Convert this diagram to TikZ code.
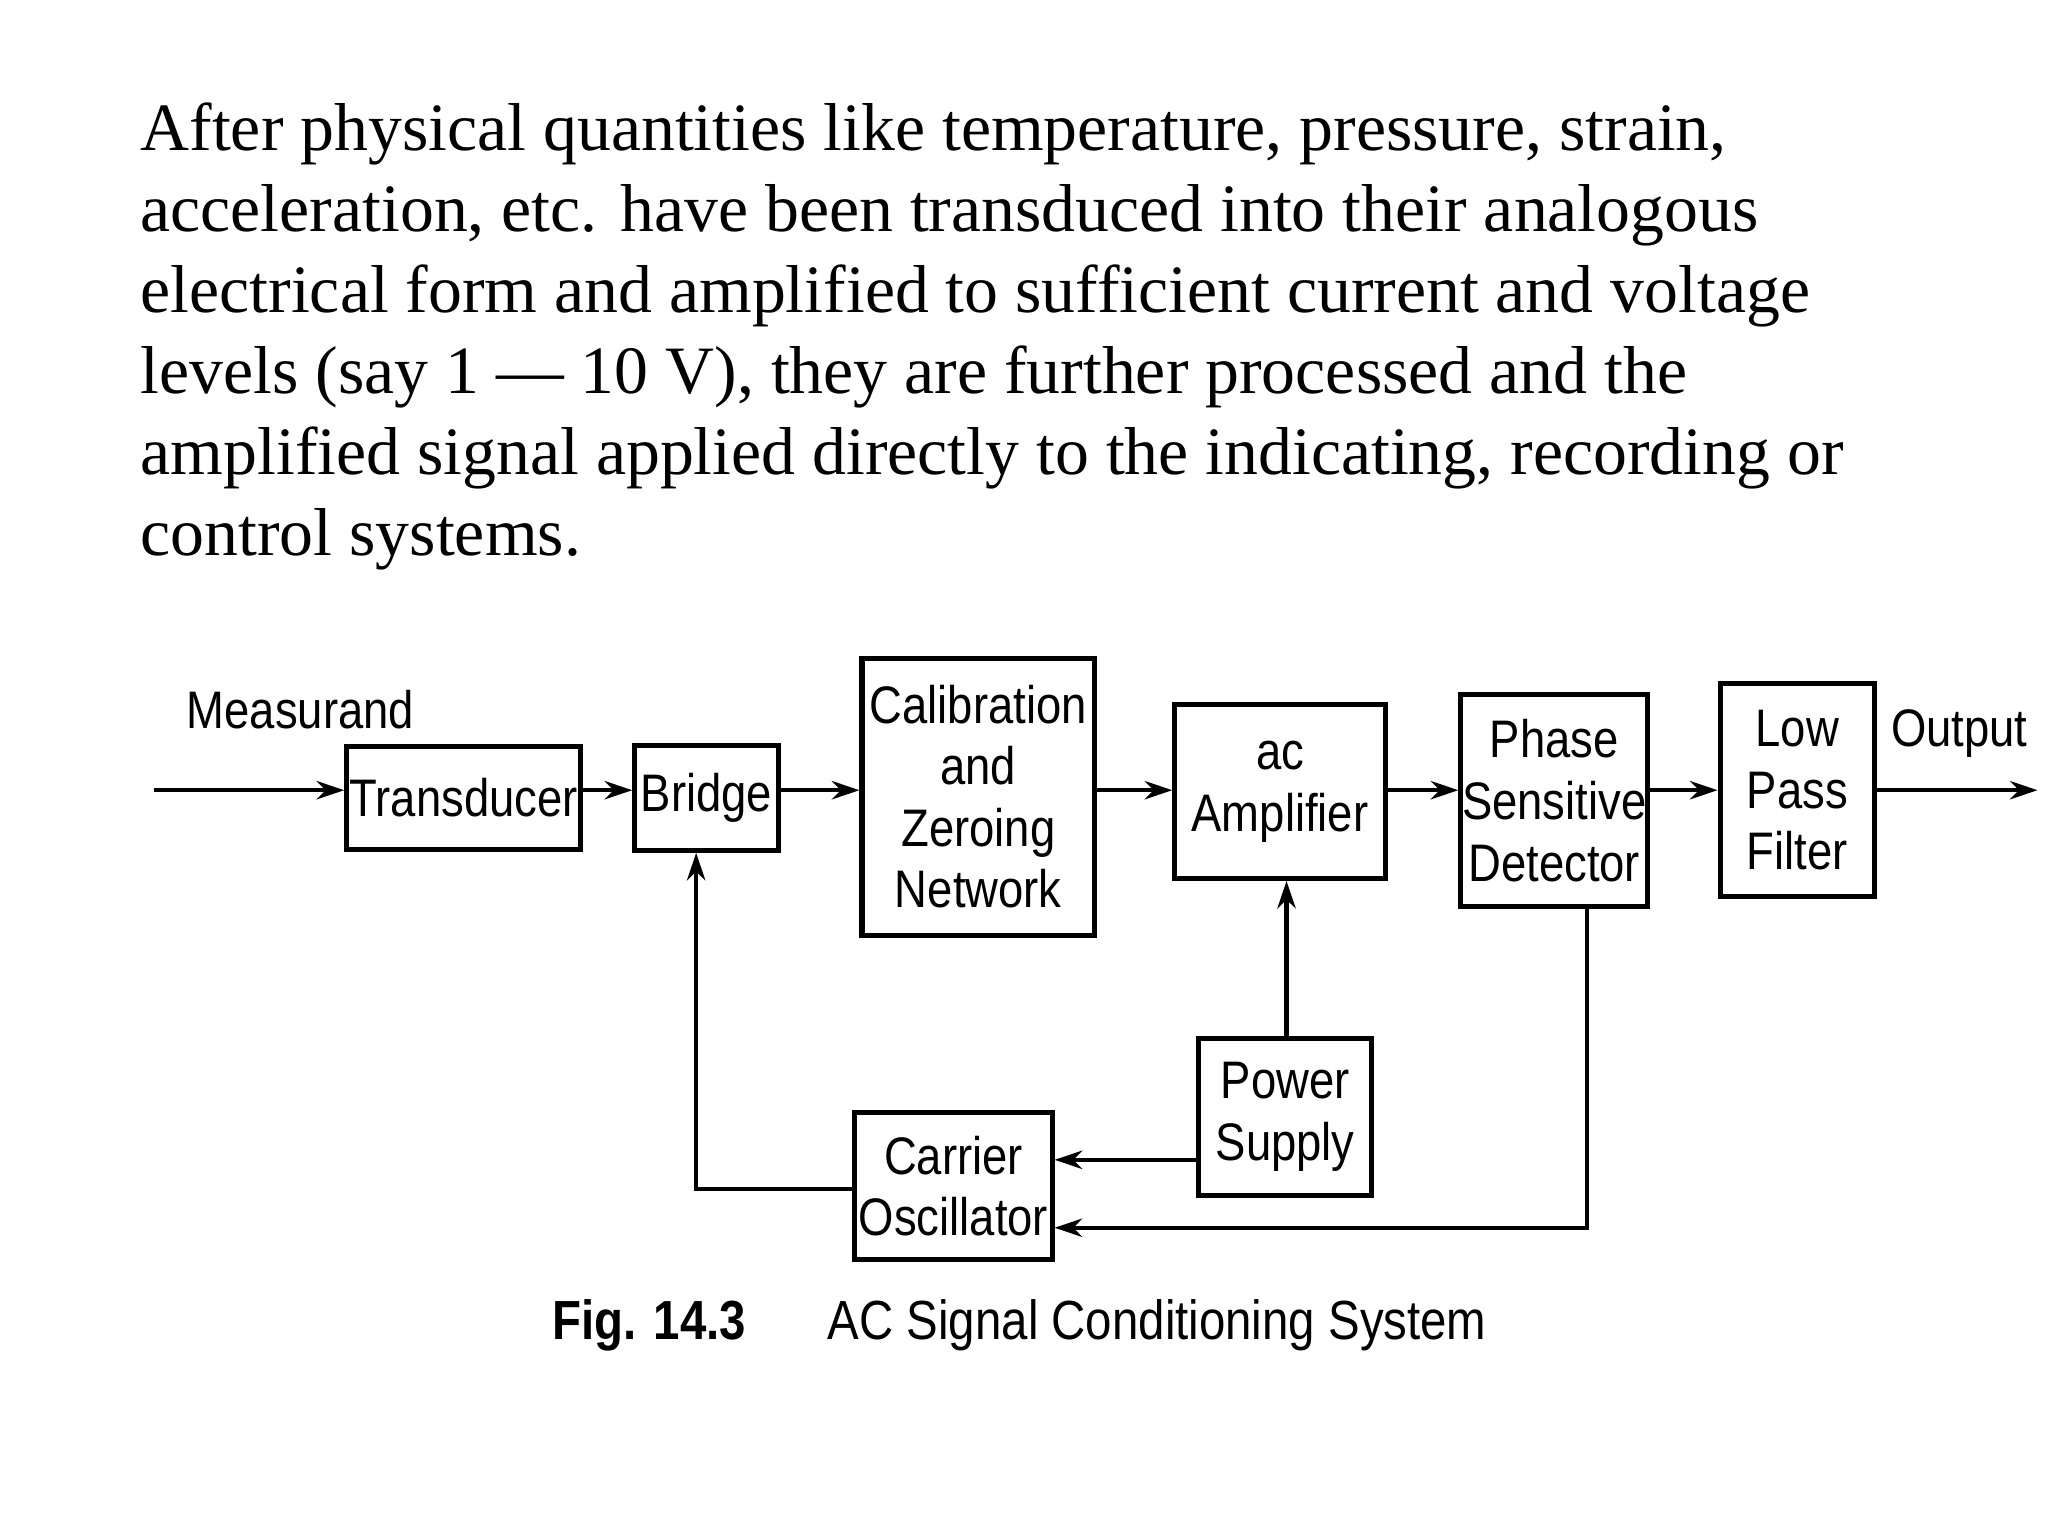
\documentclass[tikz,border=0pt]{standalone}
\usepackage{fontspec}
\setmainfont{Liberation Serif}
\newfontfamily\diag[FakeStretch=0.86]{Liberation Sans}
\usetikzlibrary{arrows.meta}
\begin{document}
\begin{tikzpicture}[x=0.01cm,y=-0.01cm,
  blk/.style={draw,line width=1.1pt,inner sep=0pt,align=center,font=\diag\fontsize{11.5pt}{13.4pt}\selectfont},
  lbl/.style={inner sep=0pt,font=\diag\fontsize{11.5pt}{13.4pt}\selectfont},
  par/.style={anchor=base west,inner sep=0pt,font=\fontsize{14.75pt}{16pt}\selectfont},
  conn/.style={line width=0.9pt,-{Stealth[length=6pt,width=4pt]}},
  wire/.style={line width=0.9pt}]
\useasboundingbox (0,0) rectangle (1568,1176);
\node[par] (l1) at (107,115) {After physical quantities like temperature, pressure, strain,};
\node[par] (l2) at (107,177) {acceleration, etc. have been transduced into their analogous};
\node[par] (l3) at (107,239) {electrical form and amplified to sufficient current and voltage};
\node[par] (l4) at (107,301) {levels (say 1 — 10 V), they are further processed and the};
\node[par] (l5) at (107,363) {amplified signal applied directly to the indicating, recording or};
\node[par] (l6) at (107,425) {control systems.};

\node[blk,minimum width=1.79cm,minimum height=0.79cm] (tr) at (355,611) {Transducer};
\node[blk,minimum width=1.10cm,minimum height=0.80cm] (br) at (541,611) {Bridge};
\node[blk,minimum width=1.78cm,minimum height=2.12cm] (cal) at (749,610) {Calibration\\and\\Zeroing\\Network};
\node[blk,minimum width=1.61cm,minimum height=1.33cm] (amp) at (980,606) {ac\\Amplifier};
\node[blk,minimum width=1.43cm,minimum height=1.62cm] (psd) at (1190,613) {Phase\\Sensitive\\Detector};
\node[blk,minimum width=1.18cm,minimum height=1.63cm] (lpf) at (1376,605) {Low\\Pass\\Filter};
\node[blk,minimum width=1.32cm,minimum height=1.20cm] (ps) at (984,855) {Power\\Supply};
\node[blk,minimum width=1.51cm,minimum height=1.13cm] (co) at (730,908) {Carrier\\Oscillator};
\node[lbl] (meas) at (230,543) {Measurand};
\node[lbl] (out) at (1500,562) {Output};
\coordinate (in) at (118,605);
\coordinate (o) at (1560,605);
\node[lbl,font=\diag\bfseries\fontsize{12pt}{14pt}\selectfont] (fig) at (497,1015) {Fig. 14.3};
\node[lbl,font=\diag\fontsize{12pt}{14pt}\selectfont] (cap) at (886,1015) {AC Signal Conditioning System};

\draw[conn] (in) -- (in -| tr.west);
\draw[conn] (tr.east |- 0,605) -- (br.west |- 0,605);
\draw[conn] (br.east |- 0,605) -- (cal.west |- 0,605);
\draw[conn] (cal.east |- 0,605) -- (amp.west |- 0,605);
\draw[conn] (amp.east |- 0,605) -- (psd.west |- 0,605);
\draw[conn] (psd.east |- 0,605) -- (lpf.west |- 0,605);
\draw[conn] (lpf.east |- 0,605) -- (o);
\draw[conn] (ps.north -| 985,0) -- (amp.south -| 985,0);
\draw[conn] (ps.west |- 0,888) -- (co.east |- 0,888);
\draw[conn] (psd.south -| 1215,0) -- (1215,940) -- (co.east |- 0,940);
\draw[conn] (co.west |- 0,910) -- (533,910) -- (br.south -| 533,0);
\end{tikzpicture}
\end{document}
